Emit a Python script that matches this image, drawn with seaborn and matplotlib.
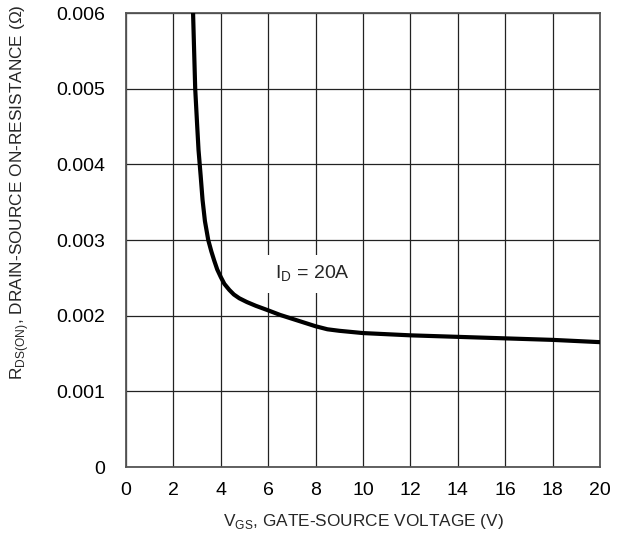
import matplotlib
matplotlib.use("Agg")
import matplotlib.pyplot as plt
import seaborn as sns
import pandas as pd

# Data
vgs = [2.83, 2.87, 2.92, 3.0, 3.06, 3.15, 3.23, 3.33, 3.47, 3.6, 3.72, 3.85, 4.0, 4.15, 4.36,
       4.55, 4.78, 5.1, 5.48, 6.0, 6.5, 7.0, 7.5, 8.0, 8.5, 9.0, 10.0, 12.0, 14.0, 16.0, 18.0, 20.0]
rds = [0.0060, 0.00555, 0.0050, 0.00453, 0.00419, 0.00385, 0.00353, 0.00325, 0.00300, 0.00285,
       0.00273, 0.00261, 0.00251, 0.00242, 0.00234, 0.00228, 0.00223, 0.00218, 0.00213,
       0.00207, 0.00201, 0.00196, 0.00191, 0.00186, 0.00182, 0.00180, 0.00177, 0.00174,
       0.00172, 0.00170, 0.00168, 0.00165]
x_ticks = [0, 2, 4, 6, 8, 10, 12, 14, 16, 18, 20]
y_ticks = [0, 0.001, 0.002, 0.003, 0.004, 0.005, 0.006]
y_tick_labels = ["0", "0.001", "0.002", "0.003", "0.004", "0.005", "0.006"]
label_text = "I$_\\mathregular{D}$ = 20A"

sns.set_theme(style="white")
plt.rcParams['font.family'] = ['Liberation Sans', 'DejaVu Sans']
plt.rcParams['mathtext.fontset'] = 'custom'
plt.rcParams['mathtext.rm'] = 'Liberation Sans'

fig = plt.figure(figsize=(6.28, 5.41), dpi=100)
ax = fig.add_axes([126/628, 1 - 467/541, 474/628, 454/541])

df = pd.DataFrame({"vgs": vgs, "rds": rds})
sns.lineplot(data=df, x="vgs", y="rds", ax=ax, color="black", linewidth=3.0,
             sort=False, estimator=None, zorder=3)

ax.set_xlim(0, 20)
ax.set_ylim(0, 0.006)
ax.set_xticks(x_ticks)
ax.set_xticklabels([str(t) for t in x_ticks])
ax.set_yticks(y_ticks)
ax.set_yticklabels(y_tick_labels)
ax.tick_params(axis='both', length=0, labelsize=14, colors='black')
ax.tick_params(axis='x', pad=11)
ax.tick_params(axis='y', pad=15)
ax.grid(True, color='#222222', linewidth=0.9)
for s in ax.spines.values():
    s.set_visible(True)
    s.set_color('#555555')
    s.set_linewidth(1.3)

ax.text(7.86, 0.00255, label_text, ha='center', va='center', fontsize=14, zorder=4,
        bbox=dict(facecolor='white', edgecolor='none', boxstyle='square,pad=0.45'))

ax.set_xlabel("V$_\\mathregular{GS}$, GATE-SOURCE VOLTAGE (V)", fontsize=12.4, labelpad=9)
ax.set_ylabel("")
fig.text(20/628, 1 - 192/541, "R$_\\mathregular{DS(ON)}$, DRAIN-SOURCE ON-RESISTANCE (\u03a9)",
         rotation=90, ha='center', va='center', fontsize=12.4)

fig.savefig("out.png", dpi=100)
